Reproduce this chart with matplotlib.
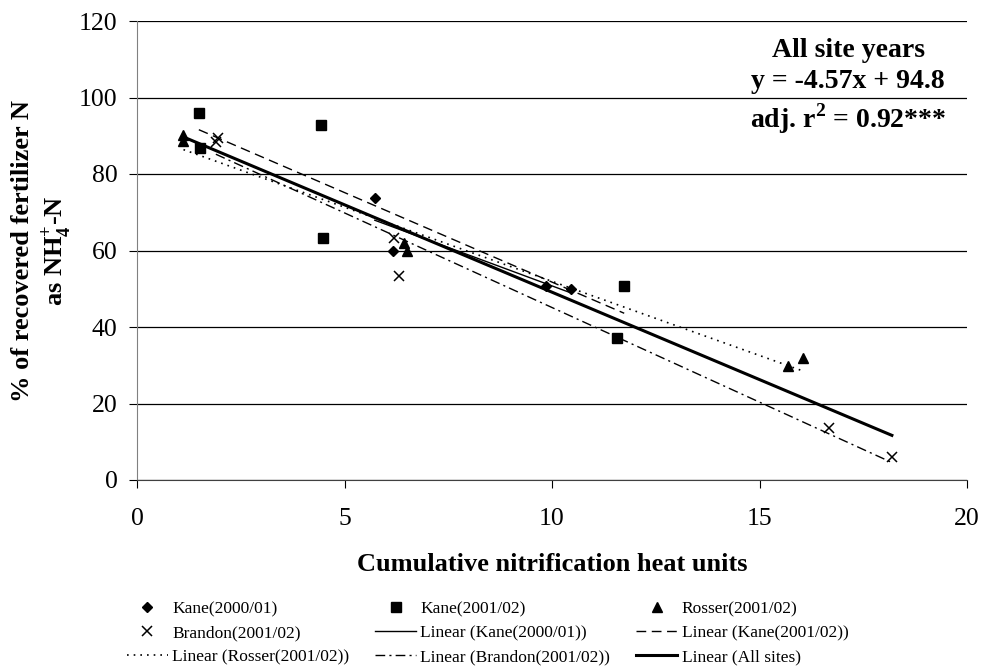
import numpy as np
import matplotlib
matplotlib.use("Agg")
import matplotlib.pyplot as plt

plt.rcParams['font.family'] = ['Liberation Serif', 'DejaVu Serif']
plt.rcParams['mathtext.fontset'] = 'custom'
plt.rcParams['mathtext.rm'] = 'Liberation Serif'
plt.rcParams['mathtext.bf'] = 'Liberation Serif:bold'

# data
kane00_x = [5.73, 6.16, 9.86, 10.46]
kane00_y = [73.7, 59.9, 50.7, 50.0]
kane01_x = [1.49, 1.53, 4.43, 4.47, 11.57, 11.74]
kane01_y = [95.9, 86.8, 92.7, 63.2, 37.0, 50.8]
rosser_x = [1.12, 1.12, 6.43, 6.50, 15.68, 16.06]
rosser_y = [90.3, 88.6, 61.9, 59.8, 29.8, 32.0]
brandon_x = [1.90, 1.94, 6.20, 6.32, 16.67, 18.19]
brandon_y = [88.3, 89.5, 63.2, 53.3, 13.7, 6.0]
all_slope = -4.57
all_icept = 94.8


def trend(x, y):
    x = np.array(x)
    y = np.array(y)
    b, a = np.polyfit(x, y, 1)
    xs = np.array([x.min(), x.max()])
    return xs, b * xs + a


W, H = 983, 669
fig = plt.figure(figsize=(W / 100, H / 100), dpi=100)
ax = fig.add_axes([137 / W, 1 - 480 / H, (967 - 137) / W, (480 - 21) / H])

h_k00, = ax.plot(kane00_x, kane00_y, 'D', color='black', ms=5, ls='none', label='Kane(2000/01)')
h_k01, = ax.plot(kane01_x, kane01_y, 's', color='black', ms=6.5, ls='none', label='Kane(2001/02)')
h_ros, = ax.plot(rosser_x, rosser_y, '^', color='black', ms=7, ls='none', label='Rosser(2001/02)')
h_bra, = ax.plot(brandon_x, brandon_y, 'x', color='black', ms=7, mew=1.1, ls='none', label='Brandon(2001/02)')

xs, ys = trend(kane00_x, kane00_y)
l_k00, = ax.plot(xs, ys, '-', color='black', lw=1, label='Linear (Kane(2000/01))')
xs, ys = trend(kane01_x, kane01_y)
l_k01, = ax.plot(xs, ys, color='black', lw=1, dashes=(7, 4), label='Linear (Kane(2001/02))')
xs, ys = trend(rosser_x, rosser_y)
l_ros, = ax.plot(xs, ys, color='black', lw=1.2, dashes=(1, 3), label='Linear (Rosser(2001/02))')
xs, ys = trend(brandon_x, brandon_y)
l_bra, = ax.plot(xs, ys, color='black', lw=1, dashes=(7, 3, 1.5, 3), label='Linear (Brandon(2001/02))')
all_x = np.array([min(rosser_x), max(brandon_x)])
l_all, = ax.plot(all_x, all_slope * all_x + all_icept, '-', color='black', lw=2.2, label='Linear (All sites)')

ax.set_xlim(0, 20)
ax.set_ylim(0, 120)
ax.set_xticks([0, 5, 10, 15, 20])
ax.set_yticks(range(0, 121, 20))
ax.yaxis.grid(True, color='black', lw=0.9)
ax.set_axisbelow(True)
for s in ['top', 'right']:
    ax.spines[s].set_visible(False)
ax.spines['left'].set_color('#808080')
ax.spines['bottom'].set_color('#404040')
ax.tick_params(axis='both', labelsize=18.5, direction='out', length=6, color='black')
ax.tick_params(axis='y', pad=8)
ax.tick_params(axis='x', pad=14.5)

ax.set_xlabel('Cumulative nitrification heat units', fontsize=19, fontweight='bold', labelpad=16)
fig.text(42 / W, 1 - 250.5 / H,
         '% of recovered fertilizer N\nas NH$_\\mathbf{4}^\\mathbf{+}$-N',
         rotation=90, ha='center', va='center', fontsize=19, fontweight='bold',
         linespacing=1.2)

ann_x = (848 - 137) / 830
for txt, py in [('All site years', 57), ('y = -4.57x + 94.8', 88),
                ('adj. r$^\\mathbf{2}$ = 0.92***', 128)]:
    ax.text(ann_x, (480 - py) / 459, txt, transform=ax.transAxes, ha='center',
            va='baseline', fontsize=20, fontweight='bold')

handles = [h_k00, h_bra, l_ros, h_k01, l_k00, l_bra, h_ros, l_k01, l_all]
fig.legend(handles=handles, labels=[h.get_label() for h in handles], ncol=3,
           loc='center left', bbox_to_anchor=(127 / W, 1 - 633 / H), frameon=False,
           fontsize=12.5, borderpad=0, borderaxespad=0,
           handlelength=2.35, columnspacing=1.5, labelspacing=0.45, handletextpad=0.25)

fig.savefig('out.png', dpi=100)
